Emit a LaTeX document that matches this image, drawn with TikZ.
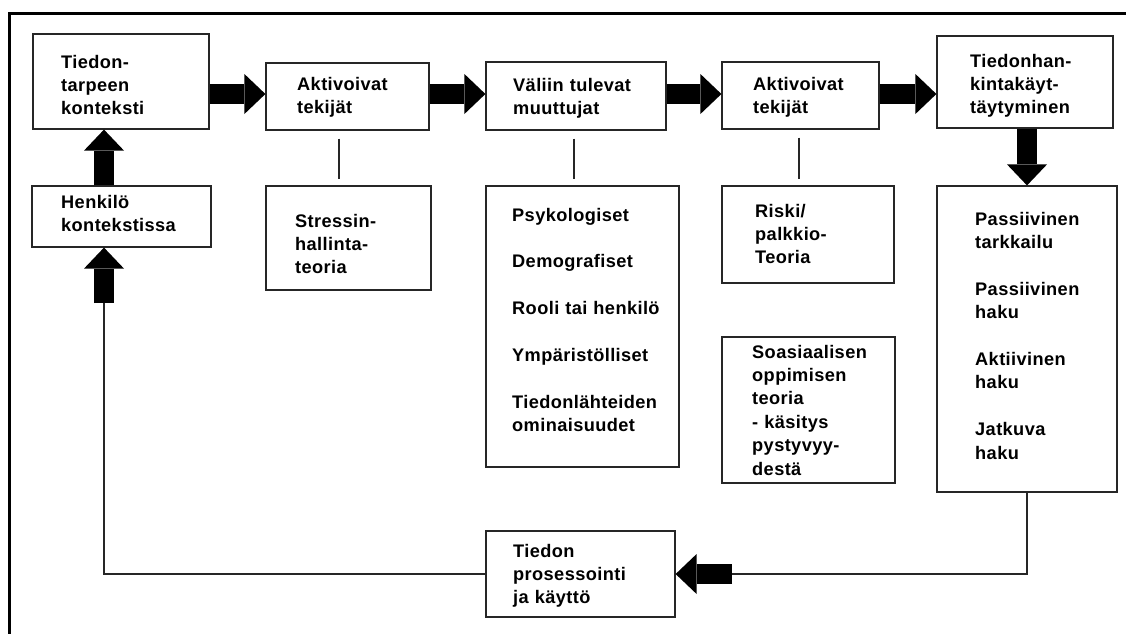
\documentclass[tikz,border=0pt]{standalone}
\usepackage{fontspec}
\setmainfont{Liberation Sans}[LetterSpace=2.2]
\usetikzlibrary{arrows.meta}
\begin{document}
\begin{tikzpicture}[x=1pt,y=-1pt,
  box/.style={draw=black!85, line width=1.2pt, rectangle, inner sep=0pt},
  txt/.style={anchor=base west, inner sep=0pt, text width=180pt, align=left,
    font={\fontsize{18.2}{23.4}\selectfont\bfseries}},
  bigarrow/.style={line width=19.5pt, -{Triangle[width=40pt,length=21pt,line width=0pt]}},
  thin/.style={line width=1.2pt, draw=black!85}]
\useasboundingbox (0,0) rectangle (1126,633);
\fill[white] (0,0) rectangle (1126,633);

% outer frame (top and left edges)
\draw[line width=3pt, line join=miter] (9.5,640) -- (9.5,13.5) -- (1130,13.5);

% boxes
\node[box, minimum width=176pt, minimum height=95pt]  (b1)    at (121,81.5)   {};
\node[box, minimum width=179pt, minimum height=61pt]  (henk)  at (121.5,216.5) {};
\node[box, minimum width=163pt, minimum height=67pt]  (akt1)  at (347.5,96.5) {};
\node[box, minimum width=165pt, minimum height=104pt] (stress) at (348.5,238) {};
\node[box, minimum width=180pt, minimum height=68pt]  (val)   at (576,96)     {};
\node[box, minimum width=193pt, minimum height=281pt] (psy)   at (582.5,326.5) {};
\node[box, minimum width=157pt, minimum height=67pt]  (akt2)  at (800.5,95.5) {};
\node[box, minimum width=172pt, minimum height=97pt]  (riski) at (808,234.5)  {};
\node[box, minimum width=173pt, minimum height=146pt] (soa)   at (808.5,410)  {};
\node[box, minimum width=176pt, minimum height=92pt]  (tkk)   at (1025,82)    {};
\node[box, minimum width=180pt, minimum height=306pt] (pass)  at (1027,339)   {};
\node[box, minimum width=189pt, minimum height=86pt]  (tied)  at (580.5,574)  {};

% box texts
\node[txt] (b1t)    at (61,68)   {Tiedon-\\tarpeen\\konteksti};
\node[txt] (henkt)  at (61,208)  {Henkilö\\kontekstissa};
\node[txt] (akt1t)  at (297,90)  {Aktivoivat\\tekijät};
\node[txt] (stresst) at (295,227) {Stressin-\\hallinta-\\teoria};
\node[txt] (valt)   at (513,91)  {Väliin tulevat\\muuttujat};
\node[txt] (psyt)   at (512,221) {Psykologiset\\[23.4pt]Demografiset\\[23.4pt]Rooli tai henkilö\\[23.4pt]Ympäristölliset\\[23.4pt]Tiedonlähteiden\\ominaisuudet};
\node[txt] (akt2t)  at (753,90)  {Aktivoivat\\tekijät};
\node[txt] (riskit) at (755,217) {Riski/\\palkkio-\\Teoria};
\node[txt] (soat)   at (752,358) {Soasiaalisen\\oppimisen\\teoria\\- käsitys\\pystyvyy-\\destä};
\node[txt] (tkkt)   at (970,67)  {Tiedonhan-\\kintakäyt-\\täytyminen};
\node[txt] (passt)  at (975,225) {Passiivinen\\tarkkailu\\[23.4pt]Passiivinen\\haku\\[23.4pt]Aktiivinen\\haku\\[23.4pt]Jatkuva\\haku};
\node[txt] (tiedt)  at (513,557) {Tiedon\\prosessointi\\ja käyttö};

% main flow arrows
\draw[bigarrow] (b1.east |- 0,94)   -- (akt1.west |- 0,94);
\draw[bigarrow] (akt1.east |- 0,94) -- (val.west |- 0,94);
\draw[bigarrow] (val.east |- 0,94)  -- (akt2.west |- 0,94);
\draw[bigarrow] (akt2.east |- 0,94) -- (tkk.west |- 0,94);
\draw[bigarrow] (tkk.south -| pass.north) -- (pass.north);

% feedback loop
\coordinate (la) at (732,574);
\coordinate (lu) at (104,303);
\draw[thin] (pass.south) |- (la);
\draw[bigarrow] (la) -- (tied.east);
\draw[thin] (tied.west) -| (lu);
\draw[bigarrow] (lu) -- (henk.south -| lu);
\draw[bigarrow] (henk.north -| lu) -- (b1.south -| lu);

% links to the theory boxes
\draw[thin, shorten <=8pt, shorten >=6pt] (akt1.south -| 339,0) -- (stress.north -| 339,0);
\draw[thin, shorten <=8pt, shorten >=6pt] (val.south -| 574,0)  -- (psy.north -| 574,0);
\draw[thin, shorten <=8pt, shorten >=6pt] (akt2.south -| 799,0) -- (riski.north -| 799,0);
\end{tikzpicture}
\end{document}
